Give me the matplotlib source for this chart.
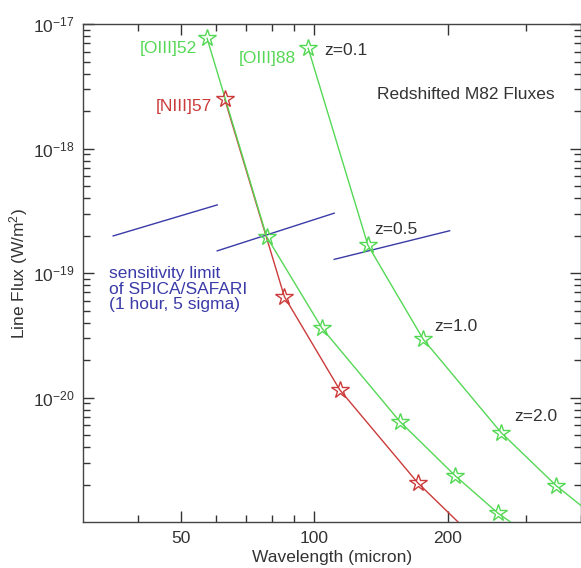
import matplotlib
matplotlib.use("Agg")
import matplotlib.pyplot as plt
from matplotlib.ticker import FixedLocator, FixedFormatter, NullFormatter

plt.rcParams['font.family'] = ['Liberation Sans', 'DejaVu Sans']
plt.rcParams['mathtext.fontset'] = 'custom'
plt.rcParams['mathtext.rm'] = 'Liberation Sans'
plt.rcParams['mathtext.it'] = 'Liberation Sans:italic'

# ---- data ----
nii57_wave = [62.7, 85.5, 114.0, 171.0, 228.0]
nii57_flux = [2.49e-18, 6.48e-20, 1.16e-20, 2.08e-21, 7.7e-22]
nii57_nmark = 4

oiii52_wave = [57.2, 78.0, 104.0, 156.0, 208.0, 260.0, 312.0]
oiii52_flux = [7.68e-18, 1.96e-19, 3.61e-20, 6.43e-21, 2.36e-21, 1.18e-21, 7.5e-22]
oiii52_nmark = 6

oiii88_wave = [96.8, 132.0, 176.0, 264.0, 352.0, 440.0]
oiii88_flux = [6.38e-18, 1.68e-19, 2.95e-20, 5.25e-21, 1.96e-21, 1.04e-21]
oiii88_nmark = 5

sens_wave = [[35.1, 60.3], [60.3, 110.8], [110.8, 202.0]]
sens_flux = [[1.99e-19, 3.53e-19], [1.51e-19, 3.03e-19], [1.29e-19, 2.19e-19]]

xticks_major = [50, 100, 200]
xticks_minor = [40, 60, 70, 80, 90, 300, 400]
yticks_major = [1e-20, 1e-19, 1e-18, 1e-17]
yticklabels = ['$10^{-20}$', '$10^{-19}$', '$10^{-18}$', '$10^{-17}$']
yticks_minor = [m * 10.0 ** e for e in (-21, -20, -19, -18) for m in range(2, 10)]

GREEN = '#55d855'
RED = '#cc3b3b'
BLUE = '#3a3aa8'
TXT = '#333333'

fig = plt.figure(figsize=(5.81, 5.68), dpi=100)
ax = fig.add_axes([83 / 581, 1 - 522.3 / 568, 498 / 581, 498.3 / 568])
ax.set_xscale('log')
ax.set_yscale('log')
ax.set_xlim(30, 400)
ax.set_ylim(1e-21, 1e-17)

star = dict(marker='*', ms=13, mfc='none', mew=1.0)

ax.plot(nii57_wave, nii57_flux, color=RED, lw=1.0, zorder=3)
ax.plot(nii57_wave[:nii57_nmark], nii57_flux[:nii57_nmark], ls='none', color=RED, mec=RED, zorder=4, **star)

ax.plot(oiii52_wave, oiii52_flux, color=GREEN, lw=1.0, zorder=3)
ax.plot(oiii52_wave[:oiii52_nmark], oiii52_flux[:oiii52_nmark], ls='none', color=GREEN, mec=GREEN, zorder=4, **star)

ax.plot(oiii88_wave, oiii88_flux, color=GREEN, lw=1.0, zorder=3)
ax.plot(oiii88_wave[:oiii88_nmark], oiii88_flux[:oiii88_nmark], ls='none', color=GREEN, mec=GREEN, zorder=4, **star)

for w, f in zip(sens_wave, sens_flux):
    ax.plot(w, f, color=BLUE, lw=1.0, zorder=2)

fs = 12.5
ax.text(54.4, 6.41e-18, '[OIII]52', color=GREEN, fontsize=fs, ha='right', va='center')
ax.text(90.8, 5.33e-18, '[OIII]88', color=GREEN, fontsize=fs, ha='right', va='center')
ax.text(58.8, 2.16e-18, '[NIII]57', color=RED, fontsize=fs, ha='right', va='center')
ax.text(105, 6.18e-18, 'z=0.1', color=TXT, fontsize=fs, ha='left', va='center')
ax.text(136.4, 2.26e-19, 'z=0.5', color=TXT, fontsize=fs, ha='left', va='center')
ax.text(186.6, 3.70e-20, 'z=1.0', color=TXT, fontsize=fs, ha='left', va='center')
ax.text(283, 7.02e-21, 'z=2.0', color=TXT, fontsize=fs, ha='left', va='center')
ax.text(0.590, 0.8595, 'Redshifted M82 Fluxes', color=TXT, fontsize=fs,
        ha='left', va='center', transform=ax.transAxes)
ax.text(0.052, 0.468, 'sensitivity limit\nof SPICA/SAFARI\n(1 hour, 5 sigma)', color=BLUE,
        fontsize=fs, ha='left', va='center', linespacing=1.05, transform=ax.transAxes)

ax.xaxis.set_major_locator(FixedLocator(xticks_major))
ax.xaxis.set_major_formatter(FixedFormatter([str(v) for v in xticks_major]))
ax.xaxis.set_minor_locator(FixedLocator(xticks_minor))
ax.xaxis.set_minor_formatter(NullFormatter())
ax.yaxis.set_major_locator(FixedLocator(yticks_major))
ax.yaxis.set_major_formatter(FixedFormatter(yticklabels))
ax.yaxis.set_minor_locator(FixedLocator(yticks_minor))
ax.yaxis.set_minor_formatter(NullFormatter())

ax.tick_params(which='both', direction='in', top=True, right=True, colors=TXT,
               labelcolor=TXT, labelsize=fs, width=1.0)
ax.tick_params(which='major', length=8, pad=6)
ax.tick_params(which='minor', length=5)
for s in ax.spines.values():
    s.set_color('#444444')
    s.set_linewidth(1.0)

ax.set_xlabel('Wavelength (micron)', fontsize=fs, color=TXT, labelpad=3)
ax.set_ylabel('Line Flux (W/m$^2$)', fontsize=fs, color=TXT, labelpad=2)

fig.savefig('out.png', dpi=100)
